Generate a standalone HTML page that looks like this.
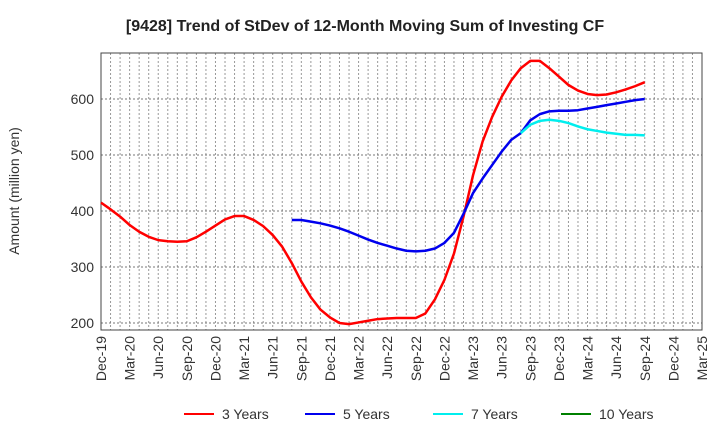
<!DOCTYPE html>
<html><head><meta charset="utf-8"><style>
body{margin:0;background:#fff;font-family:"Liberation Sans",sans-serif}
</style></head><body>
<svg id="c" width="720" height="440" xmlns="http://www.w3.org/2000/svg" font-family="Liberation Sans, sans-serif"></svg>
<script>
const xLabels=["Dec-19","Mar-20","Jun-20","Sep-20","Dec-20","Mar-21","Jun-21","Sep-21","Dec-21","Mar-22","Jun-22","Sep-22","Dec-22","Mar-23","Jun-23","Sep-23","Dec-23","Mar-24","Jun-24","Sep-24","Dec-24","Mar-25"];
const yTicks=[200,300,400,500,600];
const s3=[415,403,390,375,363,354,348,346,345,346,353,363,374,385,391,391,384,373,357,336,307,274,246,224,210,200,198,201,204,207,208,209,209,209,217,242,277,324,390,464,524,568,604,633,655,668,668,655,640,625,615,609,607,608,612,617,623,630];
const s5Start=20;
const s5=[384,384,381,378,374,369,363,356,349,343,338,333,329,328,329,333,343,361,395,432,458,482,506,527,539,562,573,578,579,579,580,583,586,589,592,595,598,600];
const s7Start=44;
const s7=[539,554,561,563,561,557,551,546,543,540,538,536,536,535];
const s10=[];
const NS="http://www.w3.org/2000/svg",svg=document.getElementById('c');
const L=101,R=702,T=53,B=330;
const xm=i=>L+i*(R-L)/63;
const y=v=>99+(600-v)*0.56;
function el(t,a,p){const e=document.createElementNS(NS,t);for(const k in a)e.setAttribute(k,a[k]);(p||svg).appendChild(e);return e;}
const t=el('text',{x:365,y:31,'text-anchor':'middle','font-size':16,'font-weight':'bold',fill:'#222'});t.textContent="[9428]  Trend of StDev of 12-Month Moving Sum of Investing CF";

for(let i=1;i<63;i++){const g=el('line',{x1:xm(i),x2:xm(i),y1:T,y2:B,stroke:'#999','stroke-dasharray':'2,2','stroke-width':1});
}
yTicks.forEach(v=>{const g=el('line',{x1:L,x2:R,y1:y(v),y2:y(v),stroke:'#777','stroke-dasharray':'2,2','stroke-width':1});

const tx=el('text',{x:L-7,y:y(v)+5,'text-anchor':'end','font-size':14,fill:'#333'});tx.textContent=v;
});
const fr=el('rect',{x:L,y:T,width:R-L,height:B-T,fill:'none',stroke:'#444','stroke-width':1});

xLabels.forEach((lb,i)=>{const x=xm(i*3);const tx=el('text',{x:0,y:0,'text-anchor':'end','font-size':14,fill:'#333',transform:`translate(${x+5},336) rotate(-90)`});tx.textContent=lb;
});
const yt=el('text',{x:0,y:0,'text-anchor':'middle','font-size':14,fill:'#333',transform:'translate(19,191) rotate(-90)'});yt.textContent="Amount (million yen)";

function series(data,start,col,name){if(!data.length)return;const p=el('polyline',{points:data.map((v,i)=>xm(start+i)+','+y(v)).join(' '),fill:'none',stroke:col,'stroke-width':2.5,'stroke-linejoin':'round'});
}
series(s3,0,'#ff0000','series-3-years');
series(s5,s5Start,'#0000ee','series-5-years');
series(s7,s7Start,'#00eeee','series-7-years');
series(s10,0,'#008000','series-10-years');
[["3 Years","#ff0000",184],["5 Years","#0000ee",305],["7 Years","#00eeee",433],["10 Years","#008000",561]].forEach(([n,c,x])=>{
const g=el('g',{});
el('line',{x1:x,x2:x+30,y1:414,y2:414,stroke:c,'stroke-width':2},g);
const tx=el('text',{x:x+38,y:419,'font-size':14,fill:'#333'},g);tx.textContent=n;});
</script>
</body></html>
